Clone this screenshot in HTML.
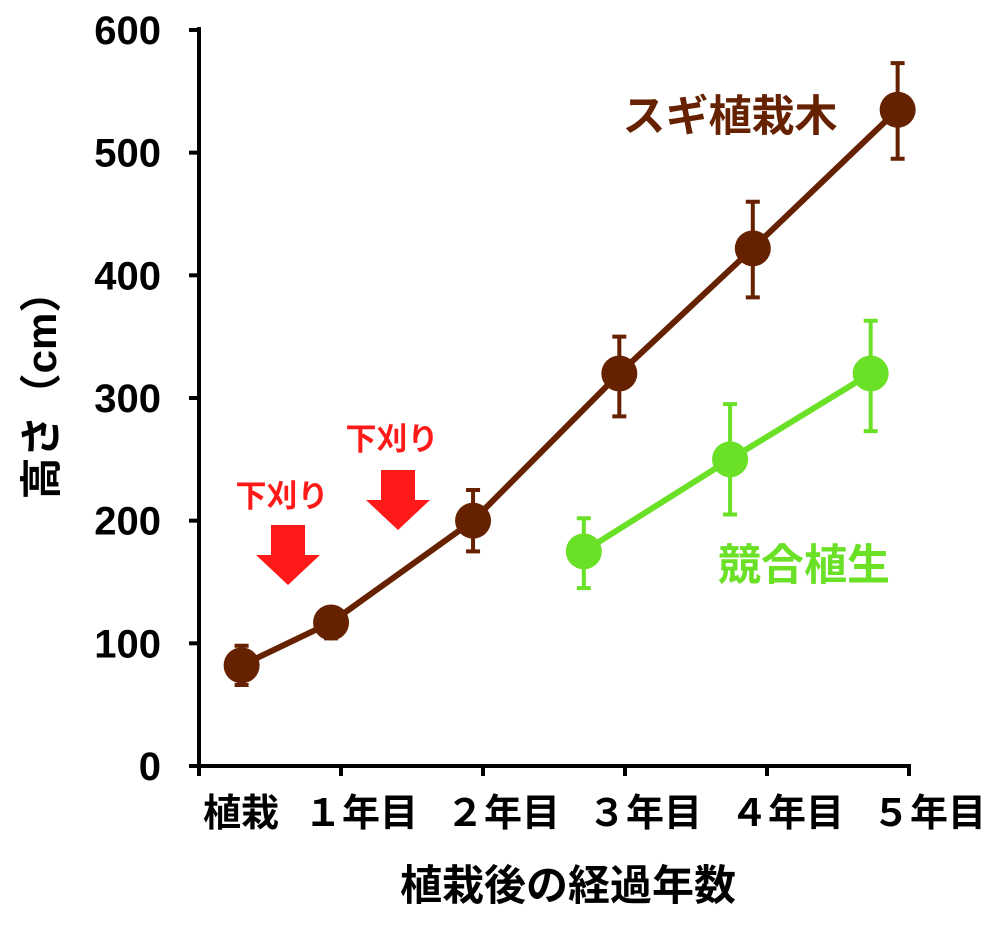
<!DOCTYPE html>
<html><head><meta charset="utf-8"><style>
html,body{margin:0;padding:0;background:#fff;}
svg text{font-family:"Liberation Sans","Noto Sans CJK JP",sans-serif;font-weight:bold;}
</style></head><body>
<svg id="chart" width="996" height="926" viewBox="0 0 996 926" xmlns="http://www.w3.org/2000/svg"></svg>
<script>
const yTicks=[0,100,200,300,400,500,600];
const xCategories=["植栽","１年目","２年目","３年目","４年目","５年目"];
const sugiTimes=[0.3,0.93,1.93,2.96,3.9,4.92];
const sugiValues=[82,117,200,320,422,535];
const sugiLow=[66,104,175,285,382,495];
const sugiHigh=[98,128,225,350,460,573];
const kyoTimes=[2.71,3.74,4.73];
const kyoValues=[175,250,320];
const kyoLow=[145,205,273];
const kyoHigh=[202,295,363];
const x0=199,y0=766,xStep=142,yPer=1.2267;
function xs(t){return x0+t*xStep;}
function ys(v){return y0-v*yPer;}
const svg=document.getElementById('chart');
const NS="http://www.w3.org/2000/svg";
function mk(tag,attrs,parent){const e=document.createElementNS(NS,tag);for(const k in attrs)e.setAttribute(k,attrs[k]);(parent||svg).appendChild(e);return e;}
let e=mk('line',{x1:x0,y1:ys(600)-3,x2:x0,y2:y0+2,stroke:'#000','stroke-width':4});


e=mk('line',{x1:x0-2,y1:y0,x2:xs(5)+2,y2:y0,stroke:'#000','stroke-width':4});


yTicks.forEach(v=>{
  let t=mk('line',{x1:x0-10,y1:ys(v),x2:x0,y2:ys(v),stroke:'#000','stroke-width':4});
  
  
  let l=mk('text',{x:x0-38,y:ys(v)+14,'text-anchor':'end','font-size':40,fill:'#000'});
  l.textContent=v;
  
  
});
xCategories.forEach((c,i)=>{
  let t=mk('line',{x1:xs(i),y1:y0,x2:xs(i),y2:y0+10,stroke:'#000','stroke-width':4});
  
  
  let l=mk('text',{x:i==0?xs(i)+42:xs(i)+20,y:826,'text-anchor':'middle','font-size':38,fill:'#000'});
  l.textContent=c;
  
  
});
function series(times,vals,lo,hi,color,name){
  const g=mk('g',{});
  
  
  const pl=mk('polyline',{points:times.map((t,i)=>xs(t)+','+ys(vals[i])).join(' '),fill:'none',stroke:color,'stroke-width':6},g);
  
  
  times.forEach((t,i)=>{
    const x=xs(t);
    const eb=mk('path',{d:`M${x},${ys(lo[i])}V${ys(hi[i])}M${x-7},${ys(lo[i])}H${x+7}M${x-7},${ys(hi[i])}H${x+7}`,stroke:color,'stroke-width':4,fill:'none'},g);
    
    
    const c=mk('circle',{cx:x,cy:ys(vals[i]),r:18,fill:color},g);
    
    
  });
}
series(sugiTimes,sugiValues,sugiLow,sugiHigh,'#662200','sugi');
series(kyoTimes,kyoValues,kyoLow,kyoHigh,'#6ae026','competing');
[[288,525,497],[398,470,440]].forEach(a=>{
  const [cx,top,ty]=a;
  const p=mk('path',{d:`M${cx-17},${top}H${cx+17}V${top+30}H${cx+32}L${cx},${top+60}L${cx-32},${top+30}H${cx-17}Z`,fill:'#ff1a1a'});
  
  
  const t=mk('text',{x:cx-6,y:ty+10,'text-anchor':'middle','font-size':31,fill:'#ff1a1a'});
  t.textContent='下刈り';
  
  
});
e=mk('text',{x:730,y:131,'text-anchor':'middle','font-size':43,fill:'#662200'});
e.textContent='スギ植栽木';


e=mk('text',{x:804,y:580,'text-anchor':'middle','font-size':43,fill:'#6ae026'});
e.textContent='競合植生';


e=mk('text',{x:568,y:900,'text-anchor':'middle','font-size':42,fill:'#000'});
e.textContent='植栽後の経過年数';


e=mk('text',{x:0,y:0,'text-anchor':'middle','font-size':42,fill:'#000',transform:'translate(56,385) rotate(-90)'});
e.textContent='高さ（cm）';


</script>
</body></html>
